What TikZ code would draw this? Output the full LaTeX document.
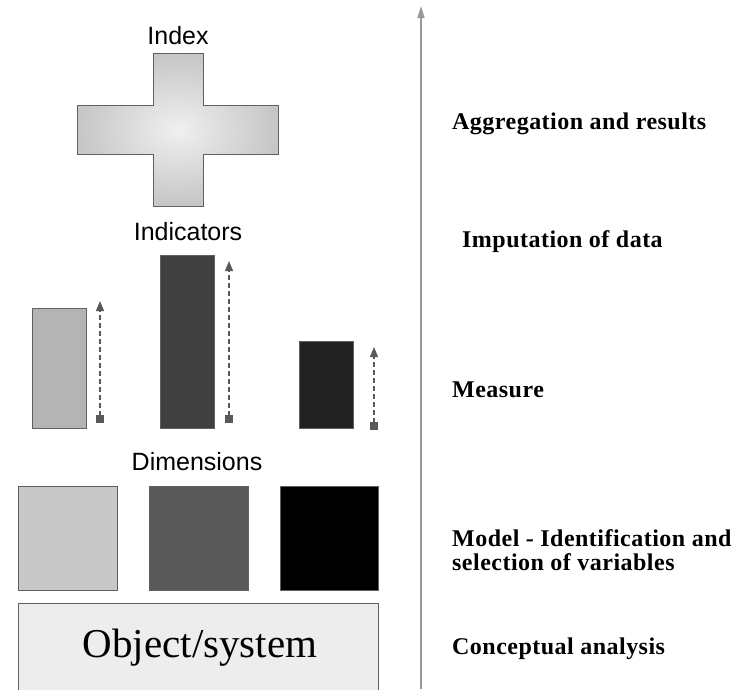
\documentclass[tikz,border=0pt]{standalone}
\usepackage{fontspec}
\setmainfont{Liberation Serif}
\newfontfamily\arialfont{Liberation Sans}
\usetikzlibrary{arrows.meta}

\definecolor{barlight}{HTML}{B4B4B4}
\definecolor{barmid}{HTML}{404040}
\definecolor{bardark}{HTML}{222222}
\definecolor{dimlight}{HTML}{C8C8C8}
\definecolor{dimmid}{HTML}{595959}
\definecolor{objfill}{HTML}{EDEDED}

\begin{document}
\begin{tikzpicture}[x=1pt, y=-1pt,
    box/.style={draw=gray!75!black, line width=0.8pt},
    heading/.style={font=\arialfont\fontsize{25}{30}\selectfont},
    stagelabel/.style={anchor=base west, inner sep=0pt, font=\bfseries\fontsize{24}{23.5}\selectfont\addfontfeature{LetterSpace=2}},
    measarrow/.style={gray!70!black, line width=1.1pt, dash pattern=on 5pt off 3pt,
        {Square[length=8pt,width=8pt]}-{Triangle[length=10pt,width=8pt]}}
]

    \useasboundingbox (0,0) rectangle (752,689);

    % axis on the right
    \coordinate (axisbot) at (421,689);
    \coordinate (axistop) at (421,6);
    \draw[gray!80, line width=1.4pt, -{Triangle[length=12pt,width=7pt]}] (axisbot) -- (axistop);

    % index (cross)
    \node[heading] (index) at (178,36) {Index};
    \shadedraw[draw=gray!75!black, line width=0.8pt, inner color=gray!12, outer color=gray!45]
        (153,53) -- (203,53) -- (203,105) -- (278,105) -- (278,154) -- (203,154)
        -- (203,206) -- (153,206) -- (153,154) -- (77,154) -- (77,105) -- (153,105) -- cycle;

    % indicators
    \node[heading] (indicators) at (188,232) {Indicators};

    \draw[box, fill=barlight] (32,308) rectangle (86,428);
    \draw[box, fill=barmid] (160,255) rectangle (214,428);
    \draw[box, fill=bardark] (299,341) rectangle (353,428);

    \coordinate (m1s) at (100,423);  \coordinate (m1e) at (100,301);
    \coordinate (m2s) at (229,423);  \coordinate (m2e) at (229,261);
    \coordinate (m3s) at (374,430);  \coordinate (m3e) at (374,347);
    \foreach \m in {1,2,3}
        \draw[measarrow] (m\m s) -- (m\m e);

    % dimensions
    \node[heading] (dimensions) at (197,462) {Dimensions};

    \draw[box, fill=dimlight] (18,486) rectangle (117,590);
    \draw[box, fill=dimmid] (149,486) rectangle (248,590);
    \draw[box, fill=black] (280,486) rectangle (378,590);

    % object / system
    \draw[box, fill=objfill] (18,603) rectangle (378,692);
    \node[font=\fontsize{41}{45}\selectfont] (object) at (200,648) {Object/system};

    % stages
    \node[stagelabel] (aggr) at (452,129) {Aggregation and results};
    \node[stagelabel] (imput) at (462,247) {Imputation of data};
    \node[stagelabel] (measure) at (452,397) {Measure};
    \node[stagelabel, align=left] (model) at (452,570) {Model - Identification and\\selection of variables};
    \node[stagelabel] (concept) at (452,654) {Conceptual analysis};

\end{tikzpicture}
\end{document}
